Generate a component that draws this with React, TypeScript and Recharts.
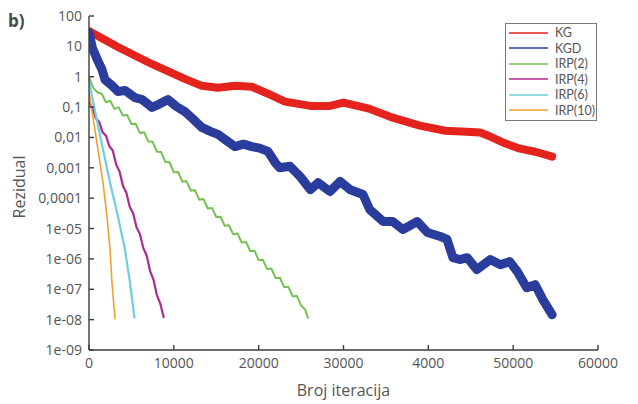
import React from 'react';
import { LineChart, Line, XAxis, YAxis, Legend } from 'recharts';

// ---- axis ticks ----
const xTicks = [0, 10000, 20000, 30000, 40000, 50000, 60000];
const xTickLabels = ['0', '10000', '20000', '30000', '4000', '50000', '60000'];
const yTicks = [1e-9, 1e-8, 1e-7, 1e-6, 1e-5, 1e-4, 1e-3, 1e-2, 1e-1, 1, 10, 100];
const yTickLabels = ['1e-09', '1e-08', '1e-07', '1e-06', '1e-05', '0,0001', '0,001', '0,01', '0,1', '1', '10', '100'];

const seriesNames = ['KG', 'KGD', 'IRP(2)', 'IRP(4)', 'IRP(6)', 'IRP(10)'];
const seriesColors = ['#e3231c', '#2b3d9c', '#74c14f', '#b02a8e', '#72cde2', '#f0a22e'];
const seriesWidths = [8, 9, 2, 2.2, 2.2, 1.6];

// ---- series: [iteration, log10(residual)] ----
const kg: [number, number][] = [
  [0, 1.5], [350, 1.45], [3400, 0.98], [7400, 0.42], [11300, -0.07], [13300, -0.3],
  [15200, -0.36], [17200, -0.3], [19200, -0.33], [21100, -0.56], [23100, -0.82],
  [26100, -0.96], [28400, -0.96], [30000, -0.85], [31500, -0.95], [33000, -1.05],
  [35500, -1.32], [39000, -1.61], [42000, -1.78], [44500, -1.81], [46100, -1.84],
  [47300, -1.97], [49100, -2.2], [50800, -2.37], [52600, -2.47], [54600, -2.63],
];

const kgd: [number, number][] = [
  [0, 1.45], [400, 0.95], [1000, 0.55], [1530, 0.24], [1890, -0.1], [2710, -0.29],
  [3420, -0.49], [4240, -0.45], [5420, -0.69], [6250, -0.75], [7430, -1.01],
  [8300, -0.9], [9310, -0.75], [10300, -0.98], [11300, -1.15], [12300, -1.4],
  [13300, -1.67], [14300, -1.8], [15200, -1.9], [16200, -2.1], [17200, -2.3],
  [18200, -2.22], [19200, -2.3], [20100, -2.35], [21100, -2.46], [22000, -2.85],
  [22500, -3.0], [23700, -2.95], [24900, -3.29], [26100, -3.72], [27000, -3.49],
  [28400, -3.78], [29600, -3.45], [30800, -3.72], [32300, -3.88], [33100, -4.38],
  [34700, -4.77], [35800, -4.77], [37000, -5.03], [38700, -4.77], [39900, -5.13],
  [41400, -5.26], [42200, -5.36], [42900, -5.96], [43700, -6.02], [44600, -5.96],
  [45700, -6.35], [47300, -6.02], [48500, -6.19], [49600, -6.09], [50500, -6.42],
  [51600, -6.95], [52600, -6.85], [53500, -7.34], [54600, -7.84],
];

const irp2: [number, number][] = [
  [0, 0.0], [470, -0.36], [1000, -0.52], [1500, -0.56], [2000, -0.84], [2500, -0.79],
  [3000, -1.06], [3500, -1.01], [4000, -1.28], [4500, -1.26], [5000, -1.56],
  [5500, -1.55], [6000, -1.85], [6500, -1.83], [7000, -2.13], [7500, -2.14],
  [8000, -2.47], [8500, -2.48], [9000, -2.81], [9500, -2.82], [10000, -3.15],
  [10500, -3.14], [11000, -3.45], [11500, -3.44], [12000, -3.75], [12500, -3.74],
  [13000, -4.05], [13500, -4.03], [14000, -4.34], [14500, -4.32], [15000, -4.62],
  [15500, -4.61], [16000, -4.91], [16500, -4.89], [17000, -5.19], [17500, -5.16],
  [18000, -5.46], [18500, -5.44], [19000, -5.74], [19500, -5.73], [20000, -6.04],
  [20500, -6.03], [21000, -6.33], [21500, -6.32], [22000, -6.63], [22500, -6.62],
  [23000, -6.93], [23500, -6.92], [24000, -7.23], [24500, -7.22], [25000, -7.53],
  [25500, -7.68], [25800, -7.94],
];

const irp4: [number, number][] = [
  [0, -0.85], [400, -1.02], [800, -1.37], [1200, -1.48], [1600, -1.83], [2000, -1.94],
  [2400, -2.29], [2800, -2.43], [3200, -2.89], [3600, -3.12], [4000, -3.59],
  [4400, -3.82], [4800, -4.28], [5200, -4.5], [5600, -4.96], [6000, -5.18],
  [6400, -5.64], [6800, -5.89], [7200, -6.4], [7600, -6.68], [8000, -7.19],
  [8400, -7.47], [8800, -7.92],
];

const irp6: [number, number][] = [
  [0, -0.15], [800, -1.25], [1650, -2.4], [2480, -3.49], [3420, -4.61],
  [4240, -5.69], [4830, -6.78], [5350, -7.93],
];

const irp10: [number, number][] = [
  [0, -0.5], [1060, -2.4], [1650, -3.49], [2120, -4.61], [2480, -5.69],
  [2710, -6.78], [3070, -7.98],
];

const toRows = (pts: [number, number][]) => pts.map(([it, e]) => ({ it, r: Math.pow(10, e) }));
const seriesData = [kg, kgd, irp2, irp4, irp6, irp10].map(toRows);

const FONT = '"Open Sans", sans-serif';
const LEGEND_FONT = 'Lato, "Open Sans", sans-serif';
const TEXT = '#555555';
const AXIS = '#3d3d3d';

const renderLegend = () => (
  <div
    style={{
      border: '1px solid #7a7a7a',
      background: '#ffffff',
      width: 92,
      boxSizing: 'border-box',
      paddingTop: 1,
      paddingBottom: 2,
      fontFamily: LEGEND_FONT,
      fontSize: 12.5,
      color: TEXT,
    }}
  >
    {seriesNames.map((name, i) => (
      <div key={name} style={{ height: 15.5, display: 'flex', alignItems: 'center', overflow: 'hidden' }}>
        <svg width={48} height={8} style={{ display: 'block', flex: 'none' }}>
          <line x1={3} x2={42} y1={4} y2={4} stroke={seriesColors[i]} strokeWidth={1.6} />
        </svg>
        <span style={{ lineHeight: '15px', marginLeft: 1, whiteSpace: 'nowrap' }}>{name}</span>
      </div>
    ))}
  </div>
);

const yLabel = (props: any) => {
  const vb = props.viewBox || { x: 0, y: 0, width: 0, height: 0 };
  const cx = vb.x + 19;
  const cy = vb.y + vb.height / 2 + 4;
  return (
    <text
      x={cx}
      y={cy}
      transform={`rotate(-90 ${cx} ${cy})`}
      textAnchor="middle"
      dominantBaseline="central"
      fill={TEXT}
      fontSize={16}
      fontFamily={FONT}
    >
      Rezidual
    </text>
  );
};

const xLabel = (props: any) => {
  const vb = props.viewBox || { x: 0, y: 0, width: 0, height: 0 };
  return (
    <text
      x={vb.x + vb.width / 2}
      y={vb.y + 46}
      textAnchor="middle"
      fill={TEXT}
      fontSize={16}
      fontFamily={FONT}
    >
      Broj iteracija
    </text>
  );
};

export default function App() {
  const tickStyle = { fill: TEXT, fontSize: 14, fontFamily: FONT };
  return (
    <div style={{ position: 'absolute', left: 0, top: 0, width: 638, height: 404, background: '#ffffff' }}>
      <div
        style={{
          position: 'absolute',
          left: 8,
          top: 9,
          fontFamily: FONT,
          fontWeight: 700,
          fontSize: 17,
          color: '#4a4a4a',
          zIndex: 2,
        }}
      >
        b)
      </div>
      <LineChart width={638} height={404} margin={{ top: 16, right: 40, bottom: 0, left: 0 }}>
        <XAxis
          dataKey="it"
          type="number"
          domain={[0, 60000]}
          ticks={xTicks}
          allowDataOverflow
          height={54}
          tickSize={-5}
          tickMargin={13}
          stroke={AXIS}
          strokeWidth={1.4}
          tick={tickStyle}
          tickFormatter={(v: number) => xTickLabels[xTicks.indexOf(v)] ?? String(v)}
          label={xLabel}
        />
        <XAxis
          xAxisId="top"
          orientation="top"
          type="number"
          domain={[0, 60000]}
          ticks={xTicks}
          allowDataOverflow
          height={0}
          tickSize={-5}
          tick={false}
          stroke={AXIS}
          strokeWidth={1.4}
        />
        <YAxis
          type="number"
          scale="log"
          domain={[1e-9, 100]}
          ticks={yTicks}
          allowDataOverflow
          width={89}
          tickSize={-5}
          tickMargin={12}
          stroke={AXIS}
          strokeWidth={1.4}
          tick={tickStyle}
          tickFormatter={(v: number) => {
            const i = yTicks.findIndex((t) => Math.abs(Math.log10(t) - Math.log10(v)) < 1e-6);
            return i >= 0 ? yTickLabels[i] : String(v);
          }}
          label={yLabel}
        />
        <YAxis
          yAxisId="right"
          orientation="right"
          type="number"
          scale="log"
          domain={[1e-9, 100]}
          ticks={yTicks}
          allowDataOverflow
          width={0}
          tickSize={-5}
          tick={false}
          stroke={AXIS}
          strokeWidth={1.4}
        />
        <Legend
          layout="vertical"
          align="center"
          verticalAlign="middle"
          wrapperStyle={{ left: 505, top: 23, width: 92, right: 'auto', bottom: 'auto' }}
          content={renderLegend}
        />
        {seriesNames.map((name, i) => (
          <Line
            key={name}
            name={name}
            data={seriesData[i]}
            dataKey="r"
            type="linear"
            stroke={seriesColors[i]}
            strokeWidth={seriesWidths[i]}
            strokeLinejoin="round"
            strokeLinecap="round"
            dot={false}
            activeDot={false}
            isAnimationActive={false}
          />
        ))}
      </LineChart>
    </div>
  );
}
